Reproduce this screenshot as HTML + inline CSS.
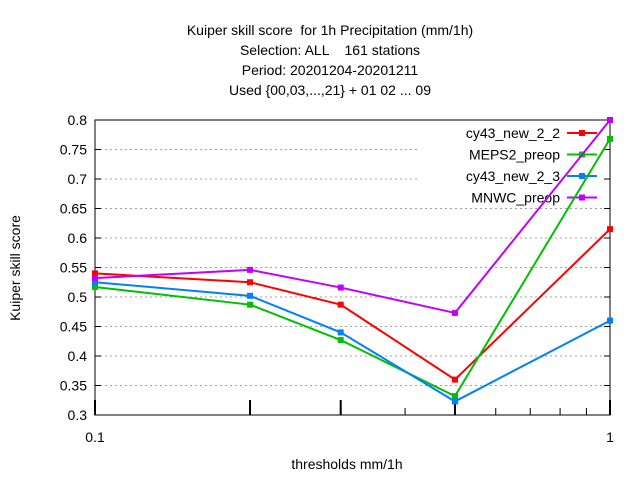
<!DOCTYPE html>
<html><head><meta charset="utf-8"><style>
body{margin:0;background:#fff}
svg text{font-family:"Liberation Sans",sans-serif;font-size:14px;fill:#000;white-space:pre}
</style></head><body>
<svg width="640" height="480" id="c">
<g>
<text x="330" y="35" text-anchor="middle" xml:space="preserve">Kuiper skill score  for 1h Precipitation (mm/1h)</text>
<text x="330" y="55" text-anchor="middle" xml:space="preserve">Selection: ALL    161 stations</text>
<text x="330" y="75" text-anchor="middle">Period: 20201204-20201211</text>
<text x="330" y="95" text-anchor="middle">Used {00,03,...,21} + 01 02 ... 09</text>
</g>
<text transform="translate(20,268) rotate(-90)" text-anchor="middle">Kuiper skill score</text>
<text x="347" y="469" text-anchor="middle">thresholds mm/1h</text>
<g id="grid"></g><g id="axes"></g><g id="legend"></g><g id="series"></g>
</svg>
<script>
const thresholds=[0.1,0.2,0.3,0.5,1];
const names=["cy43_new_2_2","MEPS2_preop","cy43_new_2_3","MNWC_preop"];
const colors=["#ff0000","#00c000","#0080ff","#c000ff"];
const s1=[0.540,0.525,0.487,0.360,0.615];
const s2=[0.517,0.487,0.427,0.332,0.768];
const s3=[0.525,0.502,0.440,0.323,0.460];
const s4=[0.532,0.546,0.516,0.473,0.800];
const yTicks=[0.3,0.35,0.4,0.45,0.5,0.55,0.6,0.65,0.7,0.75,0.8];
const yLabels=["0.3","0.35","0.4","0.45","0.5","0.55","0.6","0.65","0.7","0.75","0.8"];
const L=95,R=610,T=120,B=415,NS="http://www.w3.org/2000/svg";
const x=v=>L+(Math.log10(v)+1)*(R-L);
const y=v=>B-(v-0.3)/0.5*(B-T);
function mk(p,t,a){const e=document.createElementNS(NS,t);for(const k in a)e.setAttribute(k,a[k]);p.appendChild(e);return e;}
const grid=document.getElementById('grid'),axes=document.getElementById('axes');
yTicks.forEach((v,i)=>{
 if(i>0&&i<yTicks.length-1){const g=mk(grid,'line',{x1:L,x2:R,y1:y(v),y2:y(v),stroke:'#a0a0a0','stroke-dasharray':'2,3','stroke-width':1});
 
 }
 const t=mk(axes,'text',{x:L-8,y:y(v)+5,'text-anchor':'end'});t.textContent=yLabels[i];
 
 
 mk(axes,'line',{x1:L,x2:L+6,y1:y(v),y2:y(v),stroke:'#000'});
 mk(axes,'line',{x1:R,x2:R-6,y1:y(v),y2:y(v),stroke:'#000'});
});
const lb=mk(grid,'rect',{x:418,y:122,width:185,height:86,fill:'#fff'});


const fr=mk(axes,'rect',{x:L,y:T,width:R-L,height:B-T,fill:'none',stroke:'#000'});


[0.1,0.2,0.3,0.5,1].forEach(v=>mk(axes,'line',{x1:x(v),x2:x(v),y1:B,y2:B-15,stroke:'#000','stroke-width':2}));
[0.4,0.6,0.7,0.8,0.9].forEach(v=>mk(axes,'line',{x1:x(v),x2:x(v),y1:B,y2:B-7,stroke:'#000'}));
[[0.1,"0.1"],[1,"1"]].forEach(([v,s])=>{const t=mk(axes,'text',{x:x(v),y:B+27,'text-anchor':'middle'});t.textContent=s;
 
 });
const leg=document.getElementById('legend'),ser=document.getElementById('series');
[s1,s2,s3,s4].forEach((s,i)=>{
 const ly=133+i*21.5;
 const t=mk(leg,'text',{x:560,y:ly+5,'text-anchor':'end'});t.textContent=names[i];
 
 
 mk(leg,'line',{x1:567,x2:597,y1:ly,y2:ly,stroke:colors[i],'stroke-width':2});
 mk(leg,'rect',{x:579,y:ly-3,width:6,height:6,fill:colors[i]});
 const pts=s.map((v,j)=>x(thresholds[j])+','+y(v)).join(' ');
 const pl=mk(ser,'polyline',{points:pts,fill:'none',stroke:colors[i],'stroke-width':2});
 
 
 s.forEach((v,j)=>{const m=mk(ser,'rect',{x:x(thresholds[j])-3,y:y(v)-3,width:6,height:6,fill:colors[i]});
 
 });
});
</script>
</body></html>
